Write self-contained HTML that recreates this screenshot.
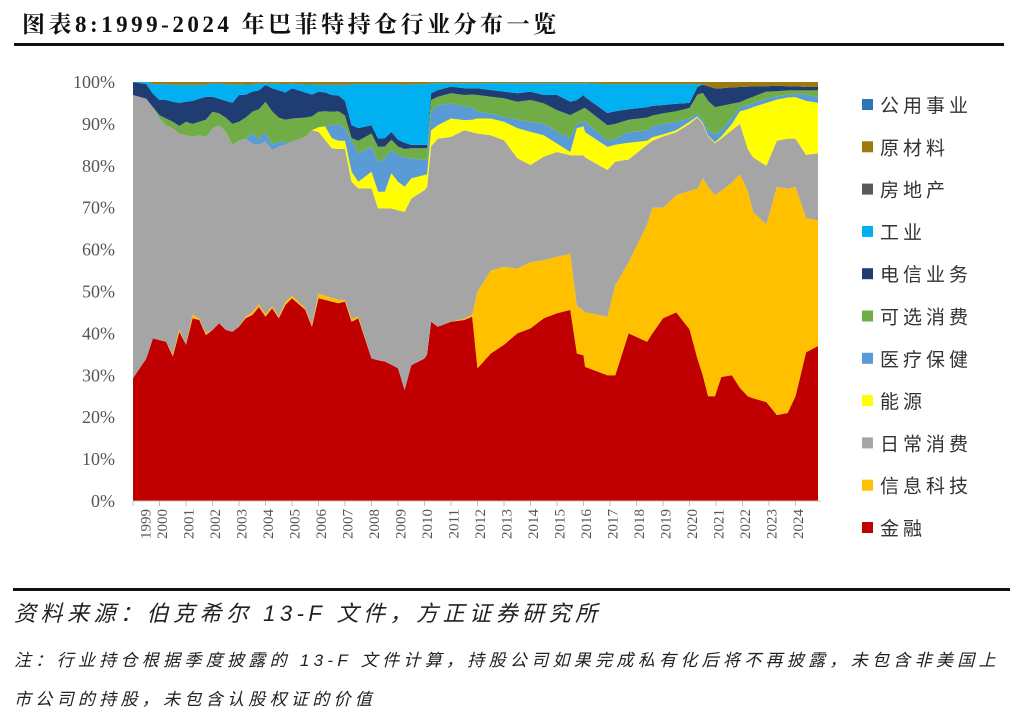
<!DOCTYPE html>
<html><head><meta charset="utf-8">
<style>
body{margin:0;background:#fff;width:1024px;height:713px;overflow:hidden;font-family:"Liberation Sans","Noto Sans CJK SC",sans-serif;}
.abs{position:absolute;}
</style></head>
<body>
<div class="abs" style="left:22px;top:6px;font-size:23px;font-weight:bold;color:#111;font-family:'Liberation Serif','Noto Serif CJK SC',serif;letter-spacing:3.5px;">图表8:1999-2024 年巴菲特持仓行业分布一览</div>
<div class="abs" style="left:14px;top:43px;width:990px;height:3px;background:#111;"></div>
<svg class="abs" style="left:0;top:0" width="1024" height="580" id="chart"></svg>
<div class="abs" style="left:13px;top:588px;width:997px;height:3px;background:#111;"></div>
<div class="abs" style="left:14px;top:596px;font-size:22px;letter-spacing:4.5px;font-style:italic;color:#222;font-family:'Liberation Sans','Noto Sans CJK SC',sans-serif;">资料来源：伯克希尔 13-F 文件，方正证券研究所</div>
<div class="abs" style="left:14px;top:641px;width:1010px;font-size:17px;letter-spacing:4.3px;line-height:39px;font-style:italic;color:#222;font-family:'Liberation Sans','Noto Sans CJK SC',sans-serif;white-space:nowrap;">注：行业持仓根据季度披露的 13-F 文件计算，持股公司如果完成私有化后将不再披露，未包含非美国上<br>市公司的持股，未包含认股权证的价值</div>
<script>
const times=[1999,1999.5,1999.75,2000,2000.25,2000.5,2000.75,2001,2001.25,2001.5,2001.75,2002,2002.25,2002.5,2002.75,2003,2003.25,2003.5,2003.75,2004,2004.25,2004.5,2004.75,2005,2005.5,2005.75,2006,2006.25,2006.5,2006.75,2007,2007.25,2007.5,2008,2008.25,2008.5,2008.75,2009,2009.25,2009.5,2010,2010.1,2010.25,2010.5,2011,2011.5,2011.8,2012,2012.5,2013,2013.5,2014,2014.5,2015,2015.5,2015.75,2016,2016.06,2016.9,2017.2,2017.7,2018.4,2018.6,2019,2019.5,2020,2020.3,2020.5,2020.7,2020.96,2021.2,2021.6,2021.9,2022.2,2022.4,2022.9,2023.3,2023.7,2024,2024.4,2024.85];
const finance=[29.3,34,38.8,38.4,38,34.5,40.4,37.3,43.6,43.2,39.6,40.8,42.4,40.8,40.4,41.6,43.6,44.4,46.3,44,46,43.6,46.8,48.4,45.6,41.6,48.4,48,47.6,47.2,47.6,42.8,43.6,34,33.6,33.3,32.5,31.7,26.5,32.4,34,35,42.8,41.6,42.8,43.2,44,31.7,35.2,37.3,40,41.2,43.6,44.8,45.6,35.2,34.8,32,30,30,40,38,40,43.6,45,41,34,30,25,25,29.6,30,27,25,24.5,23.6,20.5,21,25,35.5,37];
const tech=[0,0,0,0,0,0.5,0.6,0,0.9,0.3,0.4,0,0,0,0,0,0.4,0.6,0.7,0.5,0.5,0.4,0.7,0.6,0.4,0.4,1.1,1,0.9,0.8,0.4,0.7,0.4,0,0,0,0,0,0,0,0,0,0,0,0,0.3,0.5,18.3,19.8,18.6,15.5,15.8,13.9,13.5,13.4,11.4,10.6,13,14,21.5,17,28,30,26.4,28,33,40.5,47,50,48,44.4,46,51,49,44.5,42.4,54.5,53.5,50,32,30];
const staples=[67.6,62,55.2,52.9,51.7,53.9,46.7,50,42.4,43.8,46.9,48.1,47.3,47.3,44.6,44.4,42.5,40.3,38,41.3,37.3,40.6,37.5,36.8,40.9,46.5,38.6,37.2,35.7,36,36,32.7,30.6,40.6,36.2,36.5,37.3,37.7,42.5,39.8,40.2,40,41.8,44.9,44.1,45,43.5,37.7,32.3,30.2,26.3,23.2,24.7,25,23.5,35.9,37.1,37,35,29.5,24.5,19,16,17,15,16,17.1,13,12,12.4,12.5,12.5,12,10,13,14,11,12,11.5,15.1,16];
const energy=[0,0,0,0,0,0,0,0,0,0,0,0,0,0,0,0,0,0,0,0,0,0,0,0,0,0,1.1,3.2,2.4,2,2,2.4,1.6,4,4,4,8.4,6.8,6,4.8,3.6,3,3.9,3.2,4.4,2.4,3,3.6,4,4.4,7.2,7.9,5.1,2,0.8,6.5,6.9,6,5.5,4,4,1,0.8,0.5,0.5,0.5,0.2,0.3,0.2,0.2,0.5,1.5,3,9.5,12,15,9.8,9.8,9.9,12.9,12];
const health=[0,0,0,0,0,0,0,0,0,0,0,0,0,0,0,0,0,2.4,1.5,2.2,1.2,1.2,0.5,0,0,0,0,0,3.1,4,3,7.3,6.8,6,7.2,8,5.6,6.4,7,4.8,3.6,3.5,4.4,4.8,3.6,3.2,3,1.6,1.2,1.2,2,2.4,2.8,2.8,3.3,1.1,1.1,2.5,1.5,1.5,2.5,2.5,2.7,2.5,2,0.8,0.7,0.7,1.3,1.8,1.5,1.5,1,1,1,1,0.8,0.7,0.8,1.5,1.4];
const discretionary=[0,0,0,0.8,1.6,1.6,1.8,3.2,3.1,3.2,4.1,4,2.8,3.4,5,4.5,5,5.2,7,7.3,8,5.7,5.5,5.5,4.6,3.3,3.7,3.6,3.2,3,3,0.7,3,3.1,3.5,2.8,2.4,2,2,2.4,2.8,2.8,2.8,2,2.4,2.8,3,4,4,4.4,4.3,5.2,4.8,5.2,5.5,2.8,3.2,3.3,3.7,3.5,3,3,2.5,2.5,2.5,2.5,4.5,6.4,7,6.6,5.8,3.3,1.2,1.5,1.5,1.7,1.2,1,0.8,1,1.6];
const telecom=[3.1,3.5,3.2,3.6,4.4,4.8,5.5,4.8,5.5,5.5,5.5,3.6,3.5,4,5,6.4,5.5,4.8,4.5,4,5.5,6.5,6.5,7.2,6,5.2,4.8,4.5,4,3.8,3.5,3.1,3,2,2,2,1.9,1.6,1.5,0.8,0.8,0.7,1.6,1.6,1.6,1.6,1.5,1.6,1.6,1.6,2,2,2,3.6,3.2,2.8,3.2,2.6,2.9,3,2.5,2.5,2.3,2,1.8,1.2,1.8,2,3.5,4.5,4.2,3.9,3.6,2.9,2.5,1.3,1.3,1,1,0.8,0.8];
const industrial=[0,0.5,2.3,3.8,3.8,4,4.3,4,3.8,3.3,2.9,3.2,3.6,4,4.4,2.4,2.4,1.7,1.6,0.4,1.1,1.6,2,1.1,1.9,2.4,1.6,1.8,2.4,2.5,3.8,9.8,10.5,9.8,13,12.9,11.4,13.3,13.8,14.5,14.5,14.5,2.4,1.6,0.8,1.2,1.2,1.2,1.6,2,2.4,2,2.8,2.8,4.4,4,2.8,3.3,6.9,6.5,6,5.5,5.2,5,4.7,4.5,0.7,0.1,0,0,0,0,0,0,0,0,0,0,0,0,0];
const realEstate=times.map(()=>0);
const materials=[0,0,0.5,0.5,0.5,0.7,0.7,0.7,0.7,0.7,0.6,0.3,0.4,0.5,0.6,0.7,0.6,0.6,0.4,0.3,0.4,0.4,0.5,0.4,0.6,0.6,0.7,0.7,0.7,0.7,0.7,0.5,0.5,0.5,0.5,0.5,0.5,0.5,0.7,0.5,0.5,0.5,0.3,0.3,0.3,0.3,0.3,0.3,0.3,0.3,0.3,0.3,0.3,0.3,0.3,0.3,0.3,0.3,0.5,0.5,0.5,0.5,0.5,0.5,0.5,0.5,0.5,0.5,1,1.5,1.5,1.3,1.2,1.1,1,1,0.9,1,1,1.2,1.2];
const utilities=times.map(()=>0);
const seriesNames=["金融","信息科技","日常消费","能源","医疗保健","可选消费","电信业务","工业","房地产","原材料","公用事业"];
const seriesKeys=["finance","tech","staples","energy","health","discretionary","telecom","industrial","real-estate","materials","utilities"];
const seriesData=[finance,tech,staples,energy,health,discretionary,telecom,industrial,realEstate,materials,utilities];
const colors=["#C00000","#FFC000","#A5A5A5","#FFFF00","#5B9BD5","#70AD47","#1F3D73","#00B0F0","#595959","#9C7A0F","#2E75B6"];
const yTicks=[0,10,20,30,40,50,60,70,80,90,100];
const yearLabels=[1999,2000,2001,2002,2003,2004,2005,2006,2007,2008,2009,2010,2011,2012,2013,2014,2015,2016,2017,2018,2019,2020,2021,2022,2023,2024];

const NS="http://www.w3.org/2000/svg";
const svg=document.getElementById('chart');
const X0=133,YW=26.5,Y0=501,PY=4.19;
const xs=t=>X0+(t-1999)*YW;
const ys=v=>Y0-v*PY;
function mk(tag,attrs){const e=document.createElementNS(NS,tag);for(const k in attrs)e.setAttribute(k,attrs[k]);svg.appendChild(e);return e;}

let base=times.map(()=>0);
seriesData.forEach((arr,si)=>{
  const top=base.map((b,i)=>b+arr[i]);
  let pts=times.map((t,i)=>xs(t).toFixed(1)+','+ys(top[i]).toFixed(1));
  for(let i=times.length-1;i>=0;i--)pts.push(xs(times[i]).toFixed(1)+','+ys(base[i]).toFixed(1));
  const p=mk('polygon',{points:pts.join(' '),fill:colors[si]});
  
  
  base=top;
});

const ax=mk('line',{x1:X0,y1:Y0,x2:821,y2:Y0,stroke:'#bfbfbf','stroke-width':1});


yTicks.forEach(v=>{
  const t=mk('text',{x:115,y:ys(v)+6,'text-anchor':'end','font-size':18,fill:'#555','font-family':'Liberation Serif,serif'});
  t.textContent=v+'%';
  
  
});
yearLabels.forEach((yr,i)=>{
  const x=xs(yr);
  const tk=mk('line',{x1:x,y1:Y0,x2:x,y2:Y0+5,stroke:'#bfbfbf'});
  
  
  const lx=i===0?x+12:x+2;
  const t=mk('text',{x:lx,y:Y0+8,'text-anchor':'end','font-size':15,fill:'#555','font-family':'Liberation Serif,serif',transform:`rotate(-90 ${lx} ${Y0+8})`});
  t.setAttribute('dy','0.35em');
  t.textContent=yr;
  
  
});
for(let k=0;k<11;k++){
  const si=10-k;
  const y=105+k*42.3;
  const r=mk('rect',{x:862,y:y-6,width:11,height:11,fill:colors[si]});
  
  
  const t=mk('text',{x:880,y:y+7,'font-size':19,'letter-spacing':4,fill:'#333','font-family':'Liberation Sans,Noto Sans CJK SC,sans-serif'});
  t.textContent=seriesNames[si];
  
  
}
</script>
</body></html>
